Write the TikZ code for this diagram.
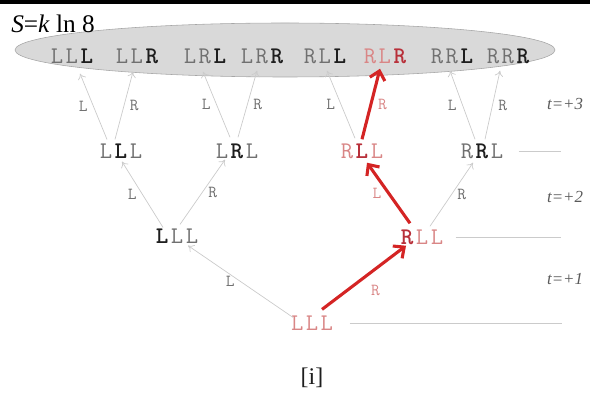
\documentclass[tikz,border=0pt]{standalone}
\usepackage{fontspec}
\setmainfont{Liberation Serif}
\usetikzlibrary{arrows.meta}

\definecolor{stategray}{HTML}{707070}
\definecolor{stateblack}{HTML}{1E1E1E}
\definecolor{statepink}{HTML}{D98686}
\definecolor{statered}{HTML}{B8303A}
\definecolor{pathred}{HTML}{D42424}
\definecolor{branchgray}{HTML}{CBCBCB}
\definecolor{cloudgray}{HTML}{D9D9D9}

% one letter of a state, with a little extra tracking
\newcommand{\stG}[1]{\kern0.9pt\textcolor{stategray}{#1}\kern0.9pt}
\newcommand{\stB}[1]{\kern0.9pt\textcolor{stateblack}{\textbf{#1}}\kern0.9pt}
\newcommand{\stP}[1]{\kern0.9pt\textcolor{statepink}{#1}\kern0.9pt}
\newcommand{\stR}[1]{\kern0.9pt\textcolor{statered}{\textbf{#1}}\kern0.9pt}

\begin{document}
\begin{tikzpicture}[x=0.025cm, y=-0.025cm,
		state/.style={font=\ttfamily\fontsize{17}{19}\selectfont, inner sep=0pt},
		lbl/.style={font=\ttfamily\fontsize{12}{14}\selectfont, text=stategray, inner sep=4pt},
		timelbl/.style={font=\itshape\fontsize{12}{14}\selectfont, text=stategray!80!black},
		branch/.style={draw=branchgray, line width=0.5pt, -{To[length=4pt,width=6pt]}},
		chosen/.style={draw=pathred, line width=2.2pt, -{Straight Barb[length=6pt,width=11pt]}},
		guide/.style={draw=branchgray, line width=0.5pt}]
		\useasboundingbox (0,0) rectangle (590,406);
		
		\draw[line width=2.2pt] (0,2) -- (590,2);
		\draw[fill=cloudgray, draw=gray!70] (285,50) ellipse [x radius=270, y radius=27];
		\node[anchor=west, inner sep=0pt, font=\fontsize{18}{20}\selectfont] (entropy) at (11,24) {\textit{S}=\textit{k} ln 8};
		
		% final states t=+3
		\foreach \x/\nm/\txt in {72/t1/{\stG{L}\stG{L}\stB{L}}, 137/t2/{\stG{L}\stG{L}\stB{R}},
				205/t3/{\stG{L}\stG{R}\stB{L}}, 262/t4/{\stG{L}\stG{R}\stB{R}},
				325/t5/{\stG{R}\stG{L}\stB{L}}, 385/t6/{\stP{R}\stP{L}\stR{R}},
				452/t7/{\stG{R}\stG{R}\stB{L}}, 508/t8/{\stG{R}\stG{R}\stB{R}}}
			\node[state] (\nm) at (\x,56) {\txt};
		
		% t=+2
		\node[state] (a2) at (121,151) {\stG{L}\stB{L}\stG{L}};
		\node[state] (b2) at (237,151) {\stG{L}\stB{R}\stG{L}};
		\node[state] (c2) at (362,151) {\stP{R}\stR{L}\stP{L}};
		\node[state] (d2) at (482,151) {\stG{R}\stB{R}\stG{L}};
		
		% t=+1
		\node[state] (a1) at (177,236) {\stB{L}\stG{L}\stG{L}};
		\node[state] (b1) at (422,237) {\stR{R}\stP{L}\stP{L}};
		
		% start
		\node[state] (n0) at (312,323) {\stP{L}\stP{L}\stP{L}};
		
		\node[timelbl] (time3) at (565,104) {t=+3};
		\node[timelbl] (time2) at (565,197) {t=+2};
		\node[timelbl] (time1) at (565,279) {t=+1};
		
		\draw[guide] ([shift={(15,0)}]n0.east) -- ++(212,0);
		\draw[guide] ([shift={(11,0)}]b1.east) -- ++(105,0);
		\draw[guide] ([shift={(14,0)}]d2.east) -- ++(42,0);
		
		\draw[branch] ([shift={(-19,2)}]n0.north) -- node[lbl, left] {L} ([shift={(11,2)}]a1.south);
		\draw[chosen] ([shift={(10,-6)}]n0.north) -- node[lbl, below right, text=statepink] {R} ([shift={(-16,1)}]b1.south);
		
		\draw[branch] ([shift={(-14,-1)}]a1.north) -- node[lbl, left] {L} ([shift={(1,3)}]a2.south);
		\draw[branch] ([shift={(3,-4)}]a1.north) -- node[lbl, right] {R} ([shift={(-12,1)}]b2.south);
		\draw[chosen] ([shift={(-12,-6)}]b1.north) -- node[lbl, left, text=statepink] {L} ([shift={(5,4)}]c2.south);
		\draw[branch] ([shift={(8,-3)}]b1.north) -- node[lbl, right] {R} ([shift={(-9,4)}]d2.south);
		
		\draw[branch] ([shift={(-14,-4)}]a2.north) -- node[lbl, left] {L} ([shift={(8,10)}]t1.south);
		\draw[branch] ([shift={(-6,-4)}]a2.north) -- node[lbl, right] {R} ([shift={(-4,8)}]t2.south);
		\draw[branch] ([shift={(-7,-6)}]b2.north) -- node[lbl, left] {L} ([shift={(-2,8)}]t3.south);
		\draw[branch] ([shift={(1,-6)}]b2.north) -- node[lbl, right] {R} ([shift={(-5,7)}]t4.south);
		\draw[branch] ([shift={(-7,-5)}]c2.north) -- node[lbl, left] {L} ([shift={(2,7)}]t5.south);
		\draw[chosen] ([shift={(0,-4)}]c2.north) -- node[lbl, right, text=statepink] {R} ([shift={(-5,5)}]t6.south);
		\draw[branch] ([shift={(-7,-4)}]d2.north) -- node[lbl, left] {L} ([shift={(-2,7)}]t7.south);
		\draw[branch] ([shift={(3,-4)}]d2.north) -- node[lbl, right] {R} ([shift={(-8,7)}]t8.south);
		
		\node[font=\fontsize{17}{19}\selectfont, text=stateblack] (caption) at (312,378) {[i]};
	\end{tikzpicture}
\end{document}
